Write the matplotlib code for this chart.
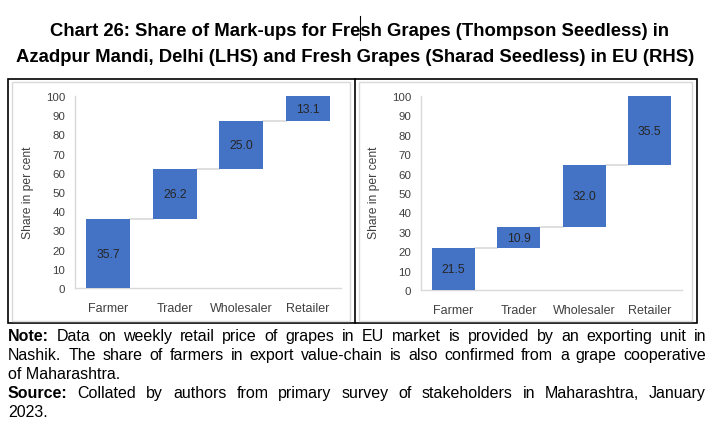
import matplotlib
matplotlib.use("Agg")
import matplotlib.pyplot as plt
import numpy as np
from matplotlib.patches import Rectangle
from matplotlib.lines import Line2D

# data
categories = ["Farmer", "Trader", "Wholesaler", "Retailer"]
delhi_share = [35.7, 26.2, 25.0, 13.1]   # Thompson Seedless, Azadpur Mandi (LHS)
eu_share = [21.5, 10.9, 32.0, 35.5]      # Sharad Seedless, EU (RHS)
yticks = list(range(0, 101, 10))
ylabel = "Share in per cent"

title_lines = [
    "Chart 26: Share of Mark-ups for Fresh Grapes (Thompson Seedless) in",
    "Azadpur Mandi, Delhi (LHS) and Fresh Grapes (Sharad Seedless) in EU (RHS)",
]
note_lines = [
    ("Note:", "Data on weekly retail price of grapes in EU market is provided by an exporting unit in", True),
    ("", "Nashik. The share of farmers in export value-chain is also confirmed from a grape cooperative", True),
    ("", "of Maharashtra.", False),
    ("Source:", "Collated by authors from primary survey of stakeholders in Maharashtra, January", True),
    ("", "2023.", False),
]

W, H = 721, 435
plt.rcParams["font.family"] = ["Liberation Sans", "DejaVu Sans"]

fig = plt.figure(figsize=(W / 100, H / 100), dpi=100)


def rect(x0, y0, x1, y1):
    # pixel box (top-left origin) -> figure fraction
    return [x0 / W, 1 - y1 / H, (x1 - x0) / W, (y1 - y0) / H]


def waterfall(ax, values):
    vals = np.array(values)
    tops = np.cumsum(vals)
    bottoms = tops - vals
    x = np.arange(len(vals))
    bw = 0.66
    ax.bar(x, vals, bottom=bottoms, width=bw, color="#4472C4", zorder=3)
    for i in range(len(vals) - 1):
        ax.plot([x[i] + bw / 2, x[i + 1] - bw / 2], [tops[i], tops[i]],
                color="#D9D9D9", lw=1.2, zorder=2)
    for xi, b, v in zip(x, bottoms, vals):
        ax.text(xi, b + v / 2, f"{v:.1f}", ha="center", va="center",
                fontsize=8.75, color="#262626", zorder=4)
    ax.set_xlim(-0.5, 3.5)
    ax.set_ylim(0, 100)
    ax.set_yticks(yticks)
    ax.set_xticks(x)
    ax.set_xticklabels(categories)
    ax.tick_params(axis="y", length=0, pad=7, labelsize=8.25, labelcolor="#404040")
    ax.tick_params(axis="x", length=0, pad=10, labelsize=9, labelcolor="#404040")
    for s in ["top", "right"]:
        ax.spines[s].set_visible(False)
    for s in ["left", "bottom"]:
        ax.spines[s].set_color("#D9D9D9")
        ax.spines[s].set_linewidth(1)
    ax.patch.set_alpha(0)


ax1 = fig.add_axes(rect(75, 97, 341, 289))
waterfall(ax1, delhi_share)
ax2 = fig.add_axes(rect(421, 97, 682, 291))
waterfall(ax2, eu_share)

fig.text(28 / W, 1 - 193 / H, ylabel, rotation=90, ha="center", va="center",
         fontsize=8.75, color="#404040")
fig.text(374 / W, 1 - 193 / H, ylabel, rotation=90, ha="center", va="center",
         fontsize=8.75, color="#404040")

# panel frames
fig.patches.append(Rectangle((8 / W, 1 - 324 / H), 689 / W, 244 / H, transform=fig.transFigure,
                             fill=False, ec="black", lw=1.2))
fig.lines.append(Line2D([355 / W, 355 / W], [1 - 80 / H, 1 - 324 / H], transform=fig.transFigure,
                        color="black", lw=1.2))
for x0, x1 in [(12, 350), (359, 692)]:
    fig.patches.append(Rectangle((x0 / W, 1 - 322 / H), (x1 - x0) / W, 239 / H,
                                 transform=fig.transFigure, fill=False, ec="#D9D9D9", lw=1))

# title
fig.text(360 / W, 1 - 36 / H, title_lines[0], ha="center", va="baseline",
         fontsize=13.3, fontweight="bold")
fig.text(355.5 / W, 1 - 62 / H, title_lines[1], ha="center", va="baseline",
         fontsize=13.3, fontweight="bold")
fig.lines.append(Line2D([360 / W, 360 / W], [1 - 17 / H, 1 - 41 / H], transform=fig.transFigure,
                        color="black", lw=0.8))

# notes, justified between x=8 and x=706
renderer = fig.canvas.get_renderer()
baselines = [341, 360, 379, 398, 417]
fs = 11.5
for (lead, body, just), yb in zip(note_lines, baselines):
    words = ([(lead, "bold")] if lead else []) + [(w, "normal") for w in body.split()]
    y = 1 - yb / H
    if not just:
        fig.text(8 / W, y, body, fontsize=fs, va="baseline")
        continue
    objs = [fig.text(0, y, w, fontsize=fs, fontweight=wt, va="baseline") for w, wt in words]
    widths = [o.get_window_extent(renderer).width for o in objs]
    gap = (706 - 8 - sum(widths)) / (len(objs) - 1)
    xp = 8
    for o, wd in zip(objs, widths):
        o.set_x(xp / W)
        xp += wd + gap

fig.savefig("out.png", dpi=100)
